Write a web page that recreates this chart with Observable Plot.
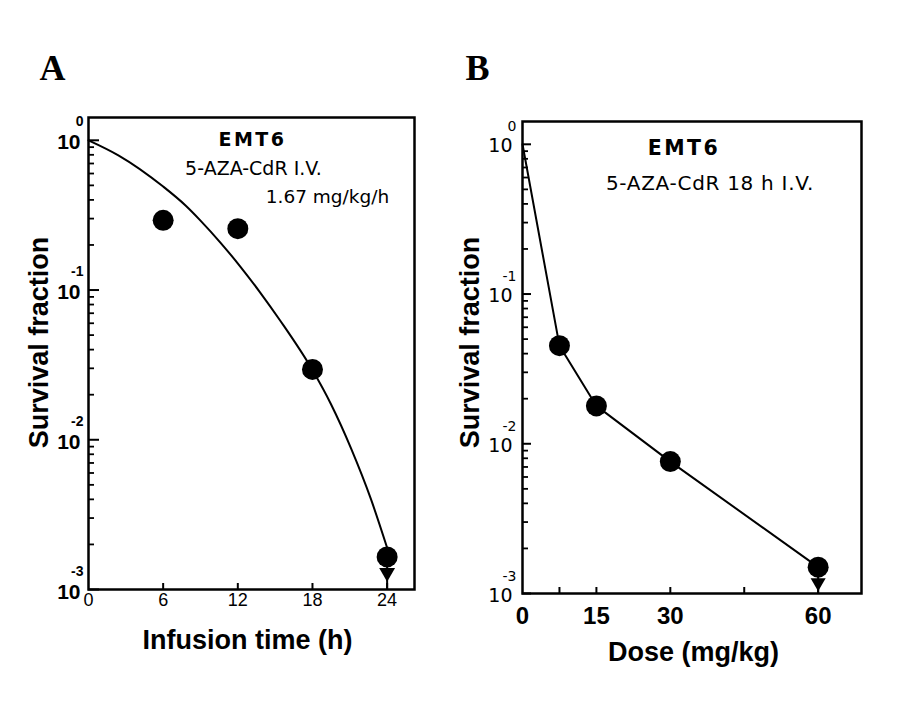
<!DOCTYPE html>
<html><head><meta charset="utf-8">
<script src="https://cdn.jsdelivr.net/npm/d3@7"></script>
<script src="https://cdn.jsdelivr.net/npm/@observablehq/plot@0.6"></script>
<style>
html,body{margin:0;padding:0;background:#fff;}
#wrap{position:relative;width:922px;height:709px;overflow:hidden;background:#fff}
#a{position:absolute;left:0;top:0}
#b{position:absolute;left:440px;top:0}
svg{display:block}
</style></head><body><div id="wrap"><div id="a"></div><div id="b"></div></div>
<script>
// ---------- Panel A : survival vs infusion time ----------
const timeA = [6, 12, 18, 24];
const survA = [0.292, 0.257, 0.0295, 0.00165];
const curveTimeA = [0, 2.4, 6, 7.8, 9, 10.6, 12.2, 13.8, 15.4, 18, 19.5, 21.1, 22.7, 24];
const curveSurvA = [1.0, 0.794, 0.491, 0.367, 0.291, 0.2076, 0.1435, 0.0962, 0.0626, 0.0292, 0.0172, 0.00876, 0.00401, 0.0019];
const xTicksA = [6, 12, 18, 24];
const xLabelValsA = [0, 6, 12, 18, 24];
const xLabelsA = ["0", "6", "12", "18", "24"];

// ---------- Panel B : survival vs dose ----------
const doseB = [7.5, 15, 30, 60];
const survB = [0.0452, 0.0179, 0.0076, 0.0015];
const lineDoseB = [0, 7.5, 15, 30, 60];
const lineSurvB = [1.0, 0.0452, 0.0179, 0.0076, 0.0015];
const xTicksB = [7.5, 15, 30, 45, 60];
const xLabelValsB = [0, 15, 30, 60];
const xLabelsB = ["0", "15", "30", "60"];

// ---------- shared log axis ----------
const majorY = [1, 0.1, 0.01, 0.001];
const expLabels = ["0", "-1", "-2", "-3"];
const minorY = [0.001, 0.01, 0.1].flatMap(d => [2, 3, 4, 5, 6, 7, 8, 9].map(m => +(m * d).toPrecision(3)));

const FONT = "Liberation Sans, Arial, Helvetica, sans-serif";
const DEJAVU = "DejaVu Sans, Verdana, sans-serif";
const SERIF = "Liberation Serif, Times New Roman, serif";

function spacing(svg, map) {
  d3.select(svg).selectAll("text").each(function () {
    const t = this.textContent;
    if (t in map) this.setAttribute("letter-spacing", map[t]);
  });
}

// inward ticks: positive tick length shifted into the frame
const inY = (ticks, len, w) => Plot.axisY(ticks, {anchor: "left", tickSize: len, dx: len, fill: "none", label: null, strokeWidth: w});
const inX = (ticks, len, w) => Plot.axisX(ticks, {anchor: "bottom", tickSize: len, dy: -len, fill: "none", label: null, strokeWidth: w});

// ---------------- Plot A ----------------
const ptsA = timeA.map((t, i) => ({t, s: survA[i]}));
const curveA = curveTimeA.map((t, i) => ({t, s: curveSurvA[i]}));
const plotA = Plot.plot({
  width: 440, height: 709,
  marginLeft: 88, marginRight: 26, marginTop: 117, marginBottom: 120,
  x: {domain: [0, 26.2]},
  y: {type: "log", domain: [0.001, 1.42]},
  style: {background: "#fff", color: "#000", fontFamily: FONT},
  marks: [
    inY(minorY, 6, 1.8),
    inY(majorY, 11, 2),
    inX(xTicksA, 6, 2),
    Plot.frame({strokeWidth: 2.5}),
    Plot.line(curveA, {x: "t", y: "s", curve: "monotone-x", strokeWidth: 2}),
    Plot.ruleX([ptsA[3]], {x: "t", y1: "s", y2: () => 0.001, strokeWidth: 2}),
    Plot.dot([ptsA[3]], {x: "t", y: () => 0.001, symbol: "triangle", rotate: 180, r: 5.9, fill: "#000", dy: -17}),
    Plot.dot(ptsA, {x: "t", y: "s", r: 10.5, fill: "#000"}),
    // y tick labels
    Plot.text(majorY, {y: d => d, frameAnchor: "left", text: () => "10", textAnchor: "end", lineAnchor: "bottom", dx: -8, dy: 9, fontSize: 21, fontWeight: "bold"}),
    Plot.text(majorY, {y: d => d, frameAnchor: "left", text: (d, i) => expLabels[i], textAnchor: "end", lineAnchor: "bottom", dx: -5, dy: -14, fontSize: 14, fontWeight: "bold"}),
    // x tick labels
    Plot.text(xLabelValsA, {x: d => d, frameAnchor: "bottom", text: (d, i) => xLabelsA[i], textAnchor: "middle", lineAnchor: "bottom", dy: 16, fontSize: 18}),
    // titles
    Plot.text(["Survival fraction"], {frameAnchor: "left", text: d => d, rotate: -90, textAnchor: "middle", lineAnchor: "bottom", dx: -41, dy: -11, fontSize: 27, fontWeight: "bold"}),
    Plot.text(["Infusion time (h)"], {frameAnchor: "bottom", text: d => d, textAnchor: "middle", lineAnchor: "bottom", dx: -4, dy: 59, fontSize: 27, fontWeight: "bold"}),
    Plot.text(["A"], {frameAnchor: "top-left", text: d => d, textAnchor: "start", lineAnchor: "bottom", dx: -49, dy: -38, fontSize: 36, fontWeight: "bold", fontFamily: SERIF}),
    // annotations
    Plot.text(["EMT6"], {frameAnchor: "top", text: d => d, textAnchor: "middle", lineAnchor: "bottom", dx: 1, dy: 28, fontSize: 19, fontWeight: "bold", fontFamily: DEJAVU}),
    Plot.text(["5-AZA-CdR I.V."], {frameAnchor: "top", text: d => d, textAnchor: "middle", lineAnchor: "bottom", dx: 2, dy: 57, fontSize: 19, fontFamily: DEJAVU}),
    Plot.text(["1.67 mg/kg/h"], {frameAnchor: "top", text: d => d, textAnchor: "middle", lineAnchor: "bottom", dx: 76, dy: 85, fontSize: 18.5, fontFamily: DEJAVU})
  ]
});
spacing(plotA, {"EMT6": 2.5});
document.getElementById("a").appendChild(plotA);

// ---------------- Plot B ----------------
const ptsB = doseB.map((d, i) => ({d, s: survB[i]}));
const lineB = lineDoseB.map((d, i) => ({d, s: lineSurvB[i]}));
const plotB = Plot.plot({
  width: 482, height: 709,
  marginLeft: 82, marginRight: 61, marginTop: 121, marginBottom: 116,
  x: {domain: [0, 68.8]},
  y: {type: "log", domain: [0.001, 1.42]},
  style: {background: "#fff", color: "#000", fontFamily: FONT},
  marks: [
    inY(minorY, 6, 1.8),
    inY(majorY, 9, 2),
    inX(xTicksB, 6, 2),
    Plot.frame({strokeWidth: 2.5}),
    Plot.line(lineB, {x: "d", y: "s", strokeWidth: 2}),
    Plot.ruleX([ptsB[3]], {x: "d", y1: "s", y2: () => 0.001, strokeWidth: 2}),
    Plot.dot([ptsB[3]], {x: "d", y: () => 0.001, symbol: "triangle", rotate: 180, r: 5.6, fill: "#000", dy: -11}),
    Plot.dot(ptsB, {x: "d", y: "s", r: 10.5, fill: "#000"}),
    Plot.text(majorY, {y: d => d, frameAnchor: "left", text: () => "10", textAnchor: "end", lineAnchor: "bottom", dx: -10, dy: 8, fontSize: 19, fontFamily: DEJAVU}),
    Plot.text(majorY, {y: d => d, frameAnchor: "left", text: (d, i) => expLabels[i], textAnchor: "end", lineAnchor: "bottom", dx: -6, dy: -13, fontSize: 14, fontFamily: DEJAVU}),
    Plot.text(xLabelValsB, {x: d => d, frameAnchor: "bottom", text: (d, i) => xLabelsB[i], textAnchor: "middle", lineAnchor: "bottom", dy: 30, fontSize: 24, fontWeight: "bold"}),
    Plot.text(["Survival fraction"], {frameAnchor: "left", text: d => d, rotate: -90, textAnchor: "middle", lineAnchor: "bottom", dx: -44, dy: -15, fontSize: 27, fontWeight: "bold"}),
    Plot.text(["Dose (mg/kg)"], {frameAnchor: "bottom", text: d => d, textAnchor: "middle", lineAnchor: "bottom", dx: 1.5, dy: 67, fontSize: 27, fontWeight: "bold"}),
    Plot.text(["B"], {frameAnchor: "top-left", text: d => d, textAnchor: "start", lineAnchor: "bottom", dx: -57, dy: -42, fontSize: 36, fontWeight: "bold", fontFamily: SERIF}),
    Plot.text(["EMT6"], {frameAnchor: "top", text: d => d, textAnchor: "middle", lineAnchor: "bottom", dx: -8, dy: 33, fontSize: 20.5, fontWeight: "bold", fontFamily: DEJAVU}),
    Plot.text(["5-AZA-CdR 18 h I.V."], {frameAnchor: "top", text: d => d, textAnchor: "middle", lineAnchor: "bottom", dx: 18, dy: 68, fontSize: 20, fontFamily: DEJAVU})
  ]
});
spacing(plotB, {"EMT6": 2.5, "5-AZA-CdR 18 h I.V.": 0.7});
document.getElementById("b").appendChild(plotB);
</script></body></html>
